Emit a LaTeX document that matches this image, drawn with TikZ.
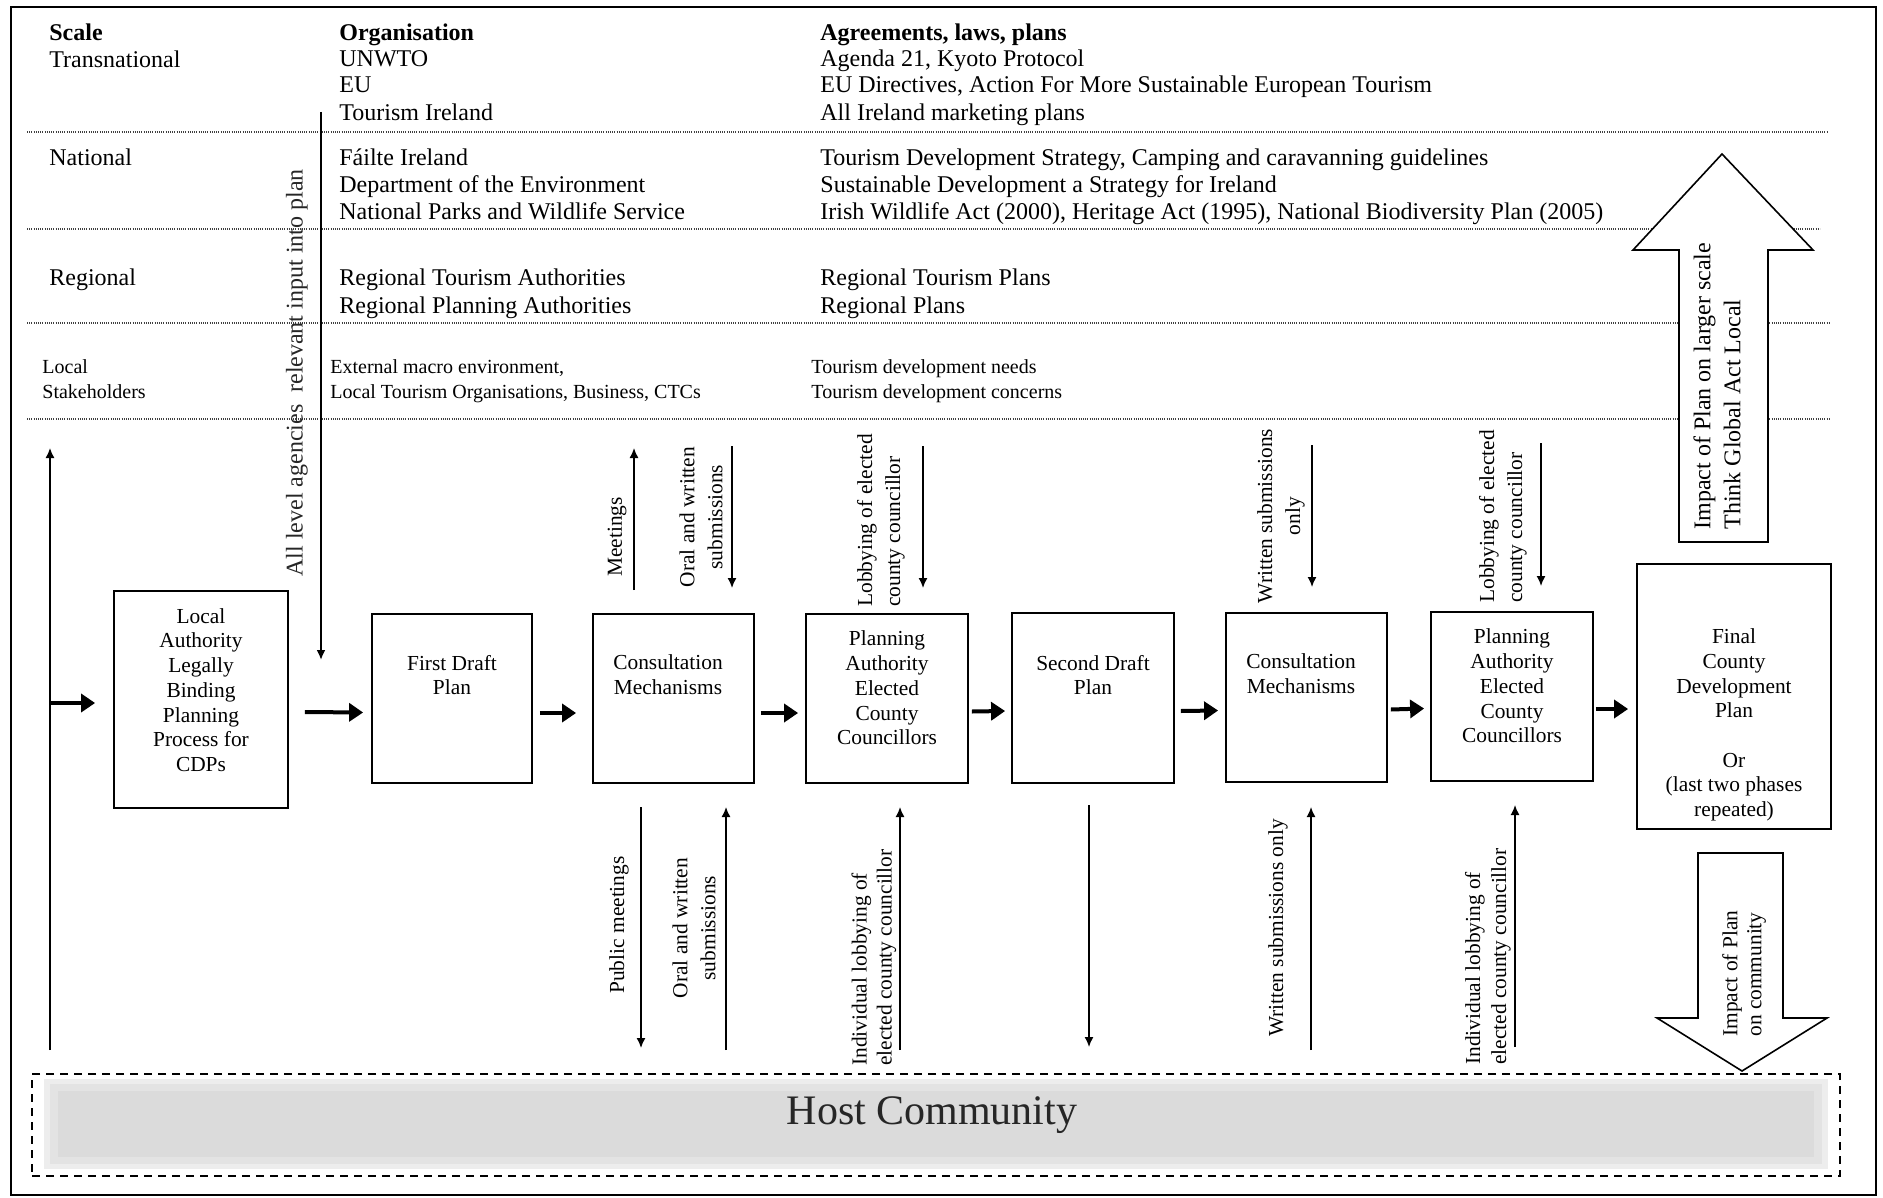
\documentclass[tikz,border=0pt]{standalone}
\usepackage{fontspec}
\setmainfont{Liberation Serif}
\usetikzlibrary{arrows.meta,calc}
\begin{document}
\begin{tikzpicture}[x=0.5pt,y=-0.5pt,
  every node/.style={inner sep=0pt},
  tl/.style={anchor=west, text height=8pt, text depth=2.4pt, font=\fontsize{12}{14}\selectfont},
  tls/.style={anchor=west, text height=6.8pt, text depth=2pt, font=\fontsize{10}{12}\selectfont},
  sep/.style={draw=black!75, line width=0.55pt, dash pattern=on 0.5pt off 0.6pt},
  box/.style={draw, line width=0.9pt},
  sz/.style 2 args={minimum width=#1*0.5pt, minimum height=#2*0.5pt},
  btext/.style={align=center, font=\fontsize{10.7}{12.35}\selectfont},
  harrow/.style={line width=2pt, -{Triangle[length=7pt,width=9pt]}},
  varrow/.style={line width=0.75pt, -{Latex[length=5pt,width=4.5pt]}},
  rlab/.style={rotate=90, align=center, font=\fontsize{10.7}{14}\selectfont},
  hollow/.style={draw, fill=white, line width=0.8pt, line join=miter},
]
\useasboundingbox (0,0) rectangle (1883,1198);

% outer frame
\draw[line width=0.9pt] (11,7) rectangle (1876,1195);

% dotted separators
\draw[sep] (27,132) -- (1827,132);
\draw[sep] (27,229) -- (1820,229);
\draw[sep] (27,323) -- (1830,323);
\draw[sep] (27,419) -- (1830,419);

% ---- top table ----
\node[tl] (hScale) at (49,35) {\textbf{Scale}};
\node[tl] (sTrans) at (49,62) {Transnational};
\node[tl] (sNat) at (49,160) {National};
\node[tl] (sReg) at (49,280) {Regional};
\node[tls] (sLoc1) at (42,369) {Local};
\node[tls] (sLoc2) at (42,394) {Stakeholders};

\node[tl] (hOrg) at (339,35) {\textbf{Organisation}};
\node[tl] (o1) at (339,61) {UNWTO};
\node[tl] (o2) at (339,87) {EU};
\node[tl] (o3) at (339,115) {Tourism Ireland};
\node[tl] (o4) at (339,160) {Fáilte Ireland};
\node[tl] (o5) at (339,187) {Department of the Environment};
\node[tl] (o6) at (339,214) {National Parks and Wildlife Service};
\node[tl] (o7) at (339,280) {Regional Tourism Authorities};
\node[tl] (o8) at (339,308) {Regional Planning Authorities};
\node[tls] (o9) at (330,369) {External macro environment,};
\node[tls] (o10) at (330,394) {Local Tourism Organisations, Business, CTCs};

\node[tl] (hAgr) at (820,35) {\textbf{Agreements, laws, plans}};
\node[tl] (a1) at (820,61) {Agenda 21, Kyoto Protocol};
\node[tl] (a2) at (820,87) {EU Directives, Action For More Sustainable European Tourism};
\node[tl] (a3) at (820,115) {All Ireland marketing plans};
\node[tl] (a4) at (820,160) {Tourism Development Strategy, Camping and caravanning guidelines};
\node[tl] (a5) at (820,187) {Sustainable Development a Strategy for Ireland};
\node[tl] (a6) at (820,214) {Irish Wildlife Act (2000), Heritage Act (1995), National Biodiversity Plan (2005)};
\node[tl] (a7) at (820,280) {Regional Tourism Plans};
\node[tl] (a8) at (820,308) {Regional Plans};
\node[tls] (a9) at (811,369) {Tourism development needs};
\node[tls] (a10) at (811,394) {Tourism development concerns};

% ---- all level agencies arrow ----
\coordinate (agTop) at (321,112);
\coordinate (agBot) at (321,660);
\draw[line width=1.2pt, -{Latex[length=5pt,width=4.5pt]}] (agTop) -- (agBot);
\node[rotate=90, font=\fontsize{12}{14}\selectfont, text=black!85] (agTxt) at (297,373) {All level agencies\ \ relevant input into plan};

% ---- process boxes ----
\node[box, sz={174}{217}] (b1) at (201,699.5) {};
\node[box, sz={160}{169}] (b2) at (452,698.5) {};
\node[box, sz={161}{169}] (b3) at (673.5,698.5) {};
\node[box, sz={162}{169}] (b4) at (887,698.5) {};
\node[box, sz={162}{170}] (b5) at (1093,698) {};
\node[box, sz={161}{169}] (b6) at (1306.5,697.5) {};
\node[box, sz={162}{169}] (b7) at (1512,696.5) {};
\node[box, sz={194}{265}] (b8) at (1734,696.5) {};

\node[btext] (t1) at (201,690) {Local\\Authority\\Legally\\Binding\\Planning\\Process for\\CDPs};
\node[btext] (t2) at (452,675) {First Draft\\Plan};
\node[btext] (t3) at (668,675) {Consultation\\Mechanisms};
\node[btext] (t4) at (887,688) {Planning\\Authority\\Elected\\County\\Councillors};
\node[btext] (t5) at (1093,675) {Second Draft\\Plan};
\node[btext] (t6) at (1301,674) {Consultation\\Mechanisms};
\node[btext] (t7) at (1512,686) {Planning\\Authority\\Elected\\County\\Councillors};
\node[btext] (t8) at (1734,725) {Final\\County\\Development\\Plan\\\mbox{}\\Or\\(last two phases\\repeated)};

% horizontal arrows
\coordinate (lh) at (50,703);
\draw[harrow] (lh) -- ([shift={(-18,3.5)}]b1.west);
\draw[harrow] ([shift={(16,12.5)}]b1.east) -- ([shift={(-8,14)}]b2.west);
\draw[harrow] ([shift={(7,14.5)}]b2.east) -- ([shift={(-16,14.5)}]b3.west);
\draw[harrow] ([shift={(6,14.5)}]b3.east) -- ([shift={(-7,14.5)}]b4.west);
\draw[harrow] ([shift={(3,13)}]b4.east) -- ([shift={(-6,13)}]b5.west);
\draw[harrow] ([shift={(6,13)}]b5.east) -- ([shift={(-7,13)}]b6.west);
\draw[harrow] ([shift={(3,12)}]b6.east) -- ([shift={(-6,12)}]b7.west);
\draw[harrow] ([shift={(2,12.5)}]b7.east) -- ([shift={(-8,12.5)}]b8.west);

% left long arrow
\coordinate (lb) at (50,1050);
\coordinate (lt) at (50,448);
\draw[varrow] (lb) -- (lt);

% ---- vertical arrows above ----
\coordinate (u1a) at (634,590); \coordinate (u1b) at (634,448);
\draw[varrow] (u1a) -- (u1b);
\coordinate (u2a) at (732,446); \coordinate (u2b) at (732,588);
\draw[varrow] (u2a) -- (u2b);
\coordinate (u3a) at (923,446); \coordinate (u3b) at (923,588);
\draw[varrow] (u3a) -- (u3b);
\coordinate (u4a) at (1312,445); \coordinate (u4b) at (1312,587);
\draw[varrow] (u4a) -- (u4b);
\coordinate (u5a) at (1541,443); \coordinate (u5b) at (1541,586);
\draw[varrow] (u5a) -- (u5b);

\node[rlab] (lMeet) at (617,537) {Meetings};
\node[rlab] (lOral1) at (701,517) {Oral and written\\submissions};
\node[rlab, align=left, anchor=west] (lLob1) at (881,607) {Lobbying of elected\\county councillor};
\node[rlab] (lWr1) at (1281,516) {Written submissions\\only};
\node[rlab, align=left, anchor=west] (lLob2) at (1503,603) {Lobbying of elected\\county councillor};

% ---- vertical arrows below ----
\coordinate (d1a) at (641,807); \coordinate (d1b) at (641,1048);
\draw[varrow] (d1a) -- (d1b);
\coordinate (d2a) at (726,1050); \coordinate (d2b) at (726,807);
\draw[varrow] (d2a) -- (d2b);
\coordinate (d3a) at (900,1050); \coordinate (d3b) at (900,807);
\draw[varrow] (d3a) -- (d3b);
\coordinate (d4a) at (1089,805); \coordinate (d4b) at (1089,1047);
\draw[varrow] (d4a) -- (d4b);
\coordinate (d5a) at (1311,1050); \coordinate (d5b) at (1311,807);
\draw[varrow] (d5a) -- (d5b);
\coordinate (d6a) at (1515,1047); \coordinate (d6b) at (1515,805);
\draw[varrow] (d6a) -- (d6b);

\node[rlab] (lPub) at (619,925) {Public meetings};
\node[rlab] (lOral2) at (694,928) {Oral and written\\submissions};
\node[rlab, align=left, anchor=west, font=\fontsize{10.7}{12.5}\selectfont] (lInd1) at (874,1066) {Individual lobbying of\\elected county councillor};
\node[rlab] (lWr2) at (1278,928) {Written submissions only};
\node[rlab, align=left, anchor=west, font=\fontsize{10.7}{13}\selectfont] (lInd2) at (1488,1065) {Individual lobbying of\\elected county councillor};

% ---- big hollow arrows ----
\draw[hollow] (1679,542) -- (1679,250) -- (1633,250) -- (1722,154) -- (1813,250) -- (1768,250) -- (1768,542) -- cycle;
\node[rotate=90, align=left, anchor=west, font=\fontsize{12}{15}\selectfont] (upTxt) at (1717,530) {Impact of Plan on larger scale\\Think Global Act Local};

% ---- host community ----
\fill[gray!14] (44,1079) rectangle (1828,1169);
\fill[gray!22] (50,1084) rectangle (1822,1164);
\fill[gray!28] (58,1091) rectangle (1814,1157);
\node[draw, line width=0.6pt, dash pattern=on 4pt off 3pt, sz={1808}{102}] (host) at (936,1125) {};
\node[font=\fontsize{21}{24}\selectfont, text=black!85] (hostTxt) at (932,1115) {Host Community};

\draw[hollow] (1698,853) -- (1783,853) -- (1783,1018) -- (1827,1018) -- (1742,1071) -- (1657,1018) -- (1698,1018) -- cycle;
\node[rotate=90, align=left, anchor=west, font=\fontsize{10.7}{12}\selectfont] (dnTxt) at (1744,1037) {Impact of Plan\\on community};
\end{tikzpicture}
\end{document}
